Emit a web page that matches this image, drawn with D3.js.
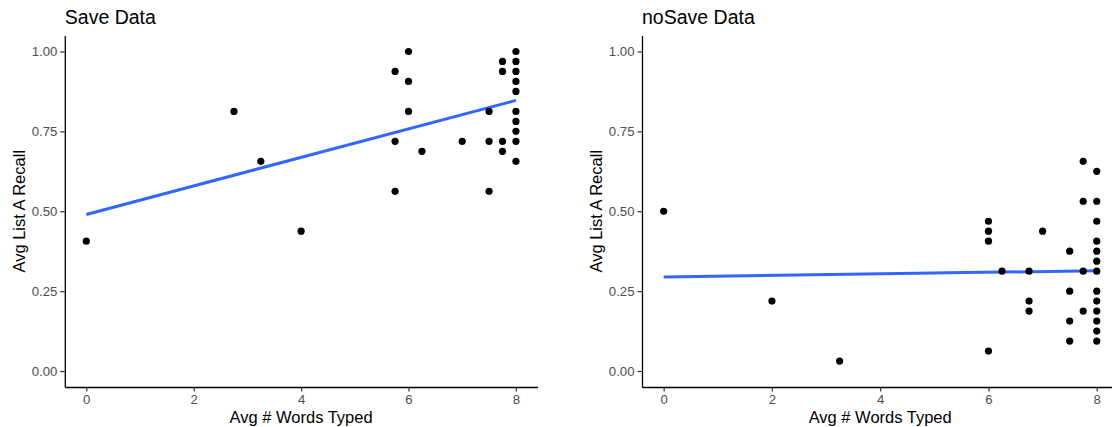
<!DOCTYPE html>
<html>
<head>
<meta charset="utf-8">
<script src="https://cdn.jsdelivr.net/npm/d3@7"></script>
<style>
  html, body { margin: 0; padding: 0; background: #fff; }
  svg { display: block; font-family: "Liberation Sans", Arial, sans-serif; }
</style>
</head>
<body>
<svg id="chart" width="1112" height="427"></svg>
<script>
// ---- data ----
const panelTitles = ["Save Data", "noSave Data"];
const xTicks = [0, 2, 4, 6, 8];
const yTicks = [0, 0.25, 0.5, 0.75, 1];
const xLabel = "Avg # Words Typed";
const yLabel = "Avg List A Recall";

const saveX = [0, 2.75, 3.25, 4,
  5.75, 5.75, 5.75, 6, 6, 6, 6.25, 7, 7.5, 7.5, 7.5,
  7.75, 7.75, 7.75, 7.75,
  8, 8, 8, 8, 8, 8, 8, 8, 8, 8];
const saveY = [0.40625, 0.8125, 0.65625, 0.4375,
  0.9375, 0.71875, 0.5625, 1.0, 0.90625, 0.8125, 0.6875, 0.71875, 0.8125, 0.71875, 0.5625,
  0.96875, 0.9375, 0.71875, 0.6875,
  1.0, 0.96875, 0.9375, 0.90625, 0.875, 0.8125, 0.78125, 0.75, 0.71875, 0.65625];

const noSaveX = [0, 2, 3.25,
  6, 6, 6, 6, 6.25, 6.75, 6.75, 6.75, 7,
  7.5, 7.5, 7.5, 7.5, 7.75, 7.75, 7.75, 7.75,
  8, 8, 8, 8, 8, 8, 8, 8, 8, 8, 8, 8, 8];
const noSaveY = [0.5, 0.21875, 0.03125,
  0.46875, 0.4375, 0.40625, 0.0625, 0.3125, 0.3125, 0.21875, 0.1875, 0.4375,
  0.375, 0.25, 0.15625, 0.09375, 0.65625, 0.53125, 0.3125, 0.1875,
  0.625, 0.53125, 0.46875, 0.40625, 0.375, 0.34375, 0.3125, 0.25, 0.21875, 0.1875, 0.15625, 0.125, 0.09375];

// fitted line endpoints (at x = 0 and x = 8)
const fitX = [0, 8];
const saveFitY = [0.49, 0.847];
const noSaveFitY = [0.294, 0.314];

// ---- layout ----
const svg = d3.select("#chart");
const xDomain = [-0.4, 8.4];
const yDomain = [-0.05, 1.05];

const panels = [
  { title: panelTitles[0], xs: saveX, ys: saveY, fit: saveFitY, x0: 64.8, x1: 537.4, yTitleX: 25 },
  { title: panelTitles[1], xs: noSaveX, ys: noSaveY, fit: noSaveFitY, x0: 642.0, x1: 1118.4, yTitleX: 602 }
];

const yTop = 35.5, yBot = 387;

panels.forEach(p => {
  const x = d3.scaleLinear().domain(xDomain).range([p.x0, p.x1]);
  const y = d3.scaleLinear().domain(yDomain).range([yBot, yTop]);
  const g = svg.append("g");

  // regression line
  const line = d3.line().x(d => x(d[0])).y(d => y(d[1]));
  g.append("path")
    .datum(fitX.map((v, i) => [v, p.fit[i]]))
    .attr("d", line)
    .attr("fill", "none")
    .attr("stroke", "#3366FF")
    .attr("stroke-width", 3);

  // points
  g.selectAll("circle.pt")
    .data(p.xs.map((v, i) => [v, p.ys[i]]))
    .join("circle")
    .attr("class", "pt")
    .attr("cx", d => x(d[0]))
    .attr("cy", d => y(d[1]))
    .attr("r", 3.6)
    .attr("fill", "#000");

  // axes
  const ax = g.append("g").attr("transform", `translate(0,${yBot})`)
    .call(d3.axisBottom(x).tickValues(xTicks).tickFormat(d3.format("d"))
      .tickSize(4.5).tickSizeOuter(0).tickPadding(3.5));
  const ay = g.append("g").attr("transform", `translate(${p.x0},0)`)
    .call(d3.axisLeft(y).tickValues(yTicks).tickFormat(d3.format(".2f"))
      .tickSize(4.5).tickSizeOuter(0).tickPadding(3));
  [ax, ay].forEach(a => {
    a.select(".domain").attr("stroke", "#000").attr("stroke-width", 1.3);
    a.selectAll(".tick line").attr("stroke", "#333").attr("stroke-width", 1.2);
    a.selectAll(".tick text").attr("fill", "#4d4d4d").style("font-size", "13.2px")
      .style("font-family", "'Liberation Sans', Arial, sans-serif");
  });

  // titles
  g.append("text")
    .attr("x", p.x0).attr("y", 24)
    .attr("font-size", 19.5).attr("fill", "#000")
    .text(p.title);

  g.append("text")
    .attr("x", (p.x0 + p.x1) / 2).attr("y", 423)
    .attr("text-anchor", "middle")
    .attr("font-size", 16.5).attr("fill", "#000")
    .text(xLabel);

  g.append("text")
    .attr("transform", `translate(${p.yTitleX},${(yTop + yBot) / 2}) rotate(-90)`)
    .attr("text-anchor", "middle")
    .attr("font-size", 16.5).attr("fill", "#000")
    .text(yLabel);
});
</script>
</body>
</html>
